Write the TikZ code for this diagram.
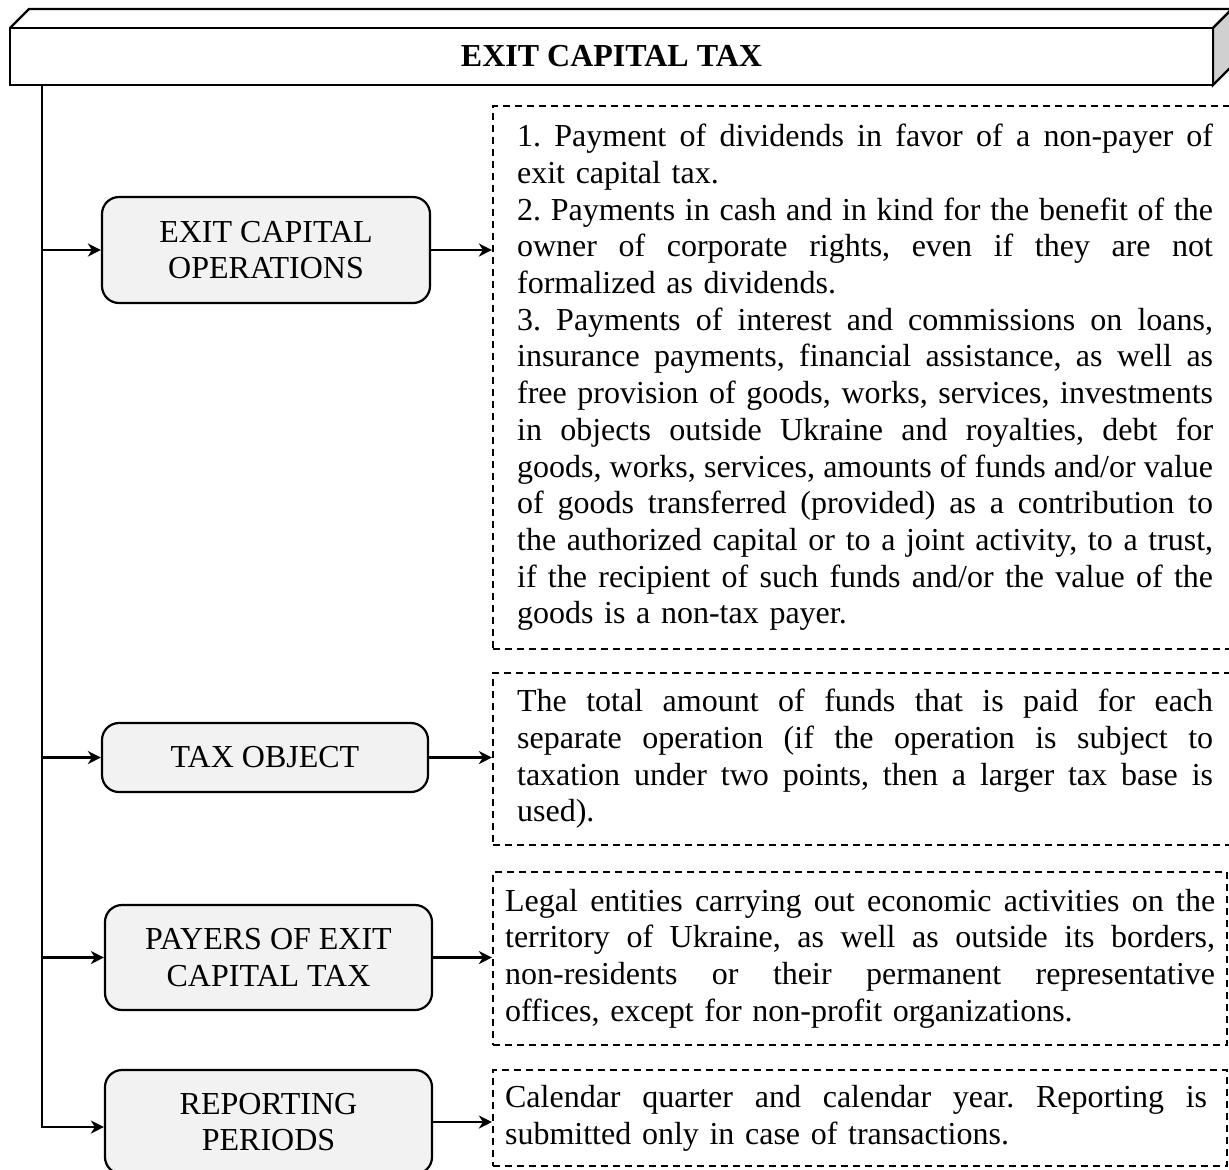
\documentclass[tikz,border=0pt]{standalone}
\usepackage{fontspec}
\setmainfont{Liberation Serif}
\usetikzlibrary{arrows.meta}
\definecolor{boxgrey}{RGB}{242,242,242}
\definecolor{sidegrey}{RGB}{208,208,208}
\newcommand{\jl}[1]{\hbox to 348pt{\spaceskip=4pt plus 6pt minus 1.4pt #1}\par}
\newcommand{\jlw}[2]{\hbox to #1{\spaceskip=4pt plus 6pt minus 1.4pt #2}\par}
\frenchspacing
\begin{document}
\begin{tikzpicture}[x=0.5pt,y=-0.5pt,
  font=\fontsize{16pt}{18.35pt}\selectfont\frenchspacing,
  line width=1.1pt,
  arr/.style={-{Stealth[length=6.5pt,width=6.5pt,inset=2pt]}},
  opbox/.style={draw, fill=boxgrey, rounded corners=8.5pt, align=center,
    inner sep=0pt, minimum width=164pt},
  dbox/.style={draw, dash pattern=on 3.5pt off 2.5pt, inner sep=0pt},
  txt/.style={anchor=west, inner sep=0pt, align=left}
]
\clip (0,0) rectangle (1229,1169);
\useasboundingbox (0,0) rectangle (1229,1169);
% 3D title bar
\fill[white] (10,28) -- (29,9) -- (1232,9) -- (1213,28) -- cycle;
\draw (10,28) -- (29,9) -- (1232,9) -- (1213,28);
\filldraw[fill=sidegrey] (1213,28) -- (1232,9) -- (1232,66) -- (1213,85) -- cycle;
\node[draw, fill=white, minimum width=601.5pt, minimum height=28.5pt, inner sep=0pt]
  (title) at (611.5,56.5) {\bfseries EXIT CAPITAL TAX};

% left boxes
\node[opbox, minimum height=53pt] (b1) at (266,250) {EXIT CAPITAL\\OPERATIONS};
\node[opbox, minimum width=163pt, minimum height=34.5pt] (b2) at (265,757.5) {TAX OBJECT};
\node[opbox, minimum width=163.5pt, minimum height=52.5pt] (b3) at (268.5,957.5) {PAYERS OF EXIT\\CAPITAL TAX};
\node[opbox, minimum width=163.5pt, minimum height=52pt] (b4) at (268.5,1122) {REPORTING\\PERIODS};

% dashed boxes
\node[dbox, minimum width=369.5pt, minimum height=271.5pt] (d1) at (862.5,377.5) {};
\node[dbox, minimum width=369.5pt, minimum height=86pt] (d2) at (862.5,759) {};
\node[dbox, minimum width=367pt, minimum height=86.5pt] (d3) at (860,958.5) {};
\node[dbox, minimum width=367pt, minimum height=48pt] (d4) at (860,1118) {};

% texts
\node[txt, text width=348pt] (t1) at (516,377.5) {%
\jl{1. Payment of dividends in favor of a non-payer of}
exit capital tax.\par
\jl{2. Payments in cash and in kind for the benefit of the}
\jl{owner of corporate rights, even if they are not}
formalized as dividends.\par
\jl{3. Payments of interest and commissions on loans,}
\jl{insurance payments, financial assistance, as well as}
\jl{free provision of goods, works, services, investments}
\jl{in objects outside Ukraine and royalties, debt for}
\jl{goods, works, services, amounts of funds and/or value}
\jl{of goods transferred (provided) as a contribution to}
\jl{the authorized capital or to a joint activity, to a trust,}
\jl{if the recipient of such funds and/or the value of the}
goods is a non-tax payer.};
\node[txt, text width=348pt] (t2) at (516,759) {%
\jl{The total amount of funds that is paid for each}
\jl{separate operation (if the operation is subject to}
\jl{taxation under two points, then a larger tax base is}
used).};
\node[txt, text width=355pt] (t3) at (504,958.5) {%
\jlw{355pt}{Legal entities carrying out economic activities on the}
\jlw{355pt}{territory of Ukraine, as well as outside its borders,}
\jlw{355pt}{non-residents or their permanent representative}
offices, except for non-profit organizations.};
\node[txt, text width=351pt] (t4) at (504,1118) {%
\jlw{351pt}{Calendar quarter and calendar year. Reporting is}
submitted only in case of transactions.};

% connectors
\coordinate (top) at (42,85);
\coordinate (bot) at (42,1127);
\draw[arr] (top) -- (bot) -- (bot -| b4.west);
\draw[arr] (b1.west -| top) -- (b1.west);
\draw[arr] (b2.west -| top) -- (b2.west);
\draw[arr] (b3.west -| top) -- (b3.west);
\draw[arr] (b1.east) -- (b1.east -| d1.west);
\draw[arr] (b2.east) -- (b2.east -| d2.west);
\draw[arr] (b3.east) -- (b3.east -| d3.west);
\draw[arr] (b4.east) -- (b4.east -| d4.west);
\end{tikzpicture}
\end{document}
